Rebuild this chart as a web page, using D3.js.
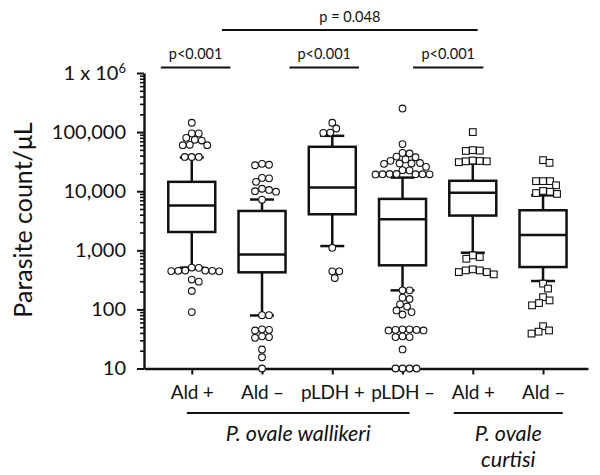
<!DOCTYPE html>
<html><head><meta charset="utf-8">
<script src="https://cdn.jsdelivr.net/npm/d3@7"></script>
<style>
html,body{margin:0;padding:0;background:#fff;}
svg{display:block;}
text{font-family:Lato,"Liberation Sans",sans-serif;fill:#111;}
</style></head>
<body>
<svg id="chart" width="600" height="475"></svg>
<script>
// ---------------- data ----------------
const categories = ["Ald +", "Ald \u2013", "pLDH +", "pLDH \u2013", "Ald +", "Ald \u2013"];
const species = ["wallikeri", "wallikeri", "wallikeri", "wallikeri", "curtisi", "curtisi"];
const q1 = [2040, 424, 4070, 557, 3870, 521];
const medians = [5720, 845, 11600, 3350, 9400, 1820];
const q3 = [14400, 4630, 56400, 7410, 15000, 4760];
const whiskerLow = [510, 79, 1180, 210, 910, 302];
const whiskerHigh = [37200, 7230, 86500, 17000, 29400, 8500];

const outliersAldPlusW = [144000, 95000, 95000, 80000, 74000, 72000, 61000, 60000, 60000, 38000, 38000, 38000,
  510, 505, 455, 450, 445, 450, 455, 440, 320, 295, 205, 90];
const outliersAldMinusW = [29000, 28000, 27500, 16800, 16500, 14400, 11000, 10500, 10000, 9800, 7200,
  80, 80, 46, 45, 44, 35, 34, 33, 21, 15.5, 10];
const outliersPldhPlus = [144000, 115000, 98000, 97000, 1100, 440, 440, 340];
const outliersPldhMinus = [251000, 62700, 44500, 43500, 38500, 37500, 34500, 32600, 30000, 29500, 29000, 29500,
  25800, 22700, 22500, 19600, 19400, 19400, 19200, 19400, 19600, 19300,
  210, 210, 158, 150, 122, 112, 96, 90, 82, 46, 46, 45, 45, 44, 44, 35, 34, 34, 21, 10, 10, 10, 10];
const outliersAldPlusC = [100000, 48000, 48500, 49500, 33000, 32000, 31000, 32000, 32500,
  820, 770, 720, 476, 457, 457, 428, 428, 392];
const outliersAldMinusC = [33500, 30200, 14800, 14800, 14800, 12600, 10100, 9800, 9300, 9000,
  273, 225, 161, 142, 128, 117, 52, 44, 42, 39];
const outliers = [outliersAldPlusW, outliersAldMinusW, outliersPldhPlus, outliersPldhMinus, outliersAldPlusC, outliersAldMinusC];

const yTicks = [10, 100, 1000, 10000, 100000, 1000000];
const yTickLabels = ["10", "100", "1,000", "10,000", "100,000", "1 x 10|6"];
const yTitle = "Parasite count/\u03bcL";

const bracketLabels = ["p<0.001", "p<0.001", "p<0.001", "p = 0.048"];
const bracketFrom = [-0.44, 1.39, 3.15, 0.43];
const bracketTo = [0.55, 2.38, 4.15, 4.07];

const groupLines = [["P. ovale wallikeri"], ["P. ovale", "curtisi"]];
const groupFrom = [-0.07, 3.73];
const groupTo = [3.1, 5.28];

// ---------------- layout ----------------
const svg = d3.select("#chart");
const axisX0 = 144, axisX1 = 588, axisY0 = 368.5, axisTop = 73;
const x = d3.scaleLinear().domain([-0.68, 5.64]).range([axisX0, axisX1]);
const y = d3.scaleLog().domain([10, 1e6]).range([axisY0, axisTop]);
const ink = "#111";

// Y axis major
const yAxis = d3.axisLeft(y).tickValues(yTicks).tickSize(7).tickSizeOuter(0).tickPadding(11)
  .tickFormat((d, i) => yTickLabels[i]);
const gy = svg.append("g").attr("transform", `translate(${axisX0},0)`).call(yAxis);
gy.select(".domain").attr("stroke", ink).attr("stroke-width", 2.4);
gy.selectAll(".tick line").attr("stroke", ink).attr("stroke-width", 2);
gy.selectAll(".tick text").attr("font-size", 20).attr("fill", ink).attr("font-family", "Lato")
  .each(function(d, i) {
    const lab = yTickLabels[i];
    if (lab.includes("|")) {
      const [base, sup] = lab.split("|");
      const t = d3.select(this).text(null);
      t.append("tspan").text(base);
      t.append("tspan").attr("dy", "-0.55em").attr("font-size", 13).text(sup);
    }
  });
// Y axis minor
const minor = [];
for (let dec = 10; dec < 1e6; dec *= 10) for (let k = 2; k <= 9; k++) minor.push(dec * k);
const gyMinor = svg.append("g").attr("transform", `translate(${axisX0},0)`)
  .call(d3.axisLeft(y).tickValues(minor).tickSize(4).tickSizeOuter(0).tickFormat(""));
gyMinor.select(".domain").remove();
gyMinor.selectAll(".tick line").attr("stroke", ink).attr("stroke-width", 1.6);

// X axis
const xAxis = d3.axisBottom(x).tickValues(d3.range(categories.length)).tickSize(6).tickSizeOuter(0)
  .tickPadding(11).tickFormat(i => categories[i]);
const gx = svg.append("g").attr("transform", `translate(0,${axisY0})`).call(xAxis);
gx.select(".domain").attr("stroke", ink).attr("stroke-width", 2.4);
gx.selectAll(".tick line").attr("stroke", ink).attr("stroke-width", 2);
gx.selectAll(".tick text").attr("font-size", 19).attr("fill", ink).attr("font-family", "Lato")
  .attr("letter-spacing", -0.2);

// Y title
svg.append("text").attr("transform", `translate(32,220) rotate(-90)`)
  .attr("text-anchor", "middle").attr("font-size", 25).text(yTitle);

// Boxes
const boxHalf = 23.5, capHalf = 12;
const gb = svg.append("g").attr("stroke", ink).attr("fill", "none").attr("stroke-width", 2.5);
categories.forEach((c, i) => {
  const cx = x(i);
  gb.append("line").attr("x1", cx).attr("x2", cx).attr("y1", y(whiskerHigh[i])).attr("y2", y(q3[i]));
  gb.append("line").attr("x1", cx).attr("x2", cx).attr("y1", y(q1[i])).attr("y2", y(whiskerLow[i]));
  gb.append("line").attr("x1", cx - capHalf).attr("x2", cx + capHalf).attr("y1", y(whiskerHigh[i])).attr("y2", y(whiskerHigh[i]));
  gb.append("line").attr("x1", cx - capHalf).attr("x2", cx + capHalf).attr("y1", y(whiskerLow[i])).attr("y2", y(whiskerLow[i]));
  gb.append("rect").attr("x", cx - boxHalf).attr("width", boxHalf * 2)
    .attr("y", y(q3[i])).attr("height", y(q1[i]) - y(q3[i]));
  gb.append("line").attr("x1", cx - boxHalf).attr("x2", cx + boxHalf).attr("y1", y(medians[i])).attr("y2", y(medians[i]));
});

// Outliers as swarm
const r = 3.35;
function swarm(vals) {
  const pts = vals.map(v => ({v, py: y(v)})).sort((a, b) => a.py - b.py);
  const placed = [];
  for (const p of pts) {
    let dx = 0;
    for (let k = 0; k < 400; k++) {
      const cand = k === 0 ? 0 : (k % 2 ? 1 : -1) * Math.ceil(k / 2) * 0.5;
      if (placed.every(q => Math.hypot(q.dx - cand, q.py - p.py) >= 2 * r + 0.3)) { dx = cand; break; }
    }
    p.dx = dx; placed.push(p);
  }
  return placed;
}
const gp = svg.append("g").attr("stroke", ink).attr("stroke-width", 1.1).attr("fill", "#fff");
outliers.forEach((vals, i) => {
  const pts = swarm(vals);
  const cx = x(i);
  if (species[i] === "curtisi") {
    gp.selectAll(null).data(pts).enter().append("rect")
      .attr("x", d => cx + d.dx - r).attr("y", d => d.py - r)
      .attr("width", 2 * r).attr("height", 2 * r);
  } else {
    gp.selectAll(null).data(pts).enter().append("circle")
      .attr("cx", d => cx + d.dx).attr("cy", d => d.py).attr("r", r);
  }
});

// Significance brackets
const bracketY = [67.5, 67.5, 67.5, 30];
const textY = [59, 59, 59, 22];
bracketLabels.forEach((lab, i) => {
  svg.append("line").attr("x1", x(bracketFrom[i])).attr("x2", x(bracketTo[i]))
    .attr("y1", bracketY[i]).attr("y2", bracketY[i]).attr("stroke", ink).attr("stroke-width", 2);
  svg.append("text").attr("x", (x(bracketFrom[i]) + x(bracketTo[i])) / 2).attr("y", textY[i])
    .attr("text-anchor", "middle").attr("font-size", 14.5).text(lab);
});

// Species groups
groupLines.forEach((lines, i) => {
  const x0 = x(groupFrom[i]), x1 = x(groupTo[i]);
  svg.append("line").attr("x1", x0).attr("x2", x1).attr("y1", 413).attr("y2", 413)
    .attr("stroke", ink).attr("stroke-width", 1.8);
  lines.forEach((l, j) => {
    svg.append("text").attr("x", (x0 + x1) / 2).attr("y", 441 + j * 26)
      .attr("text-anchor", "middle").attr("font-size", 21.5).attr("font-style", "italic").text(l);
  });
});
</script>
</body></html>
